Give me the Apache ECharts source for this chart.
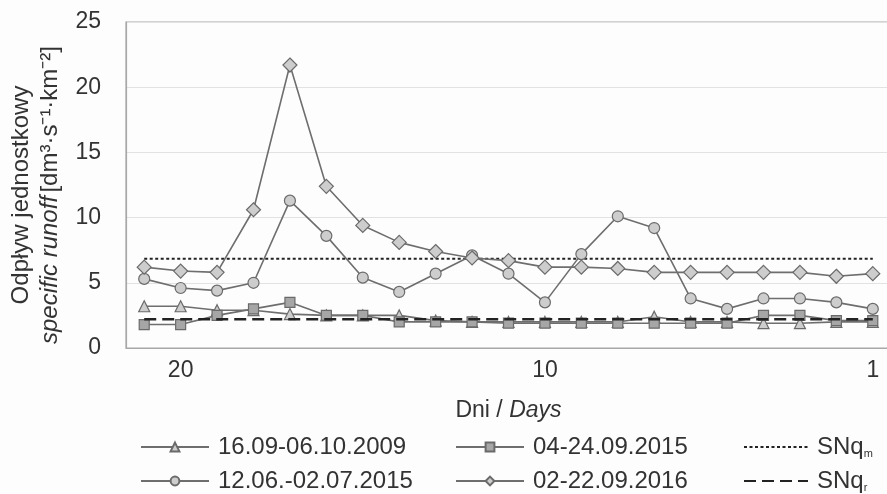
<!DOCTYPE html>
<html><head><meta charset="utf-8">
<script src="https://cdn.jsdelivr.net/npm/echarts@6/dist/echarts.min.js"></script>
<style>html,body{margin:0;padding:0;background:#fdfdfd}#c{width:887px;height:494px}</style>
</head><body><div id="c"></div>
<script>
var days = ['21','20','19','18','17','16','15','14','13','12','11','10','9','8','7','6','5','4','3','2','1'];
var s2009 = [3.2,3.2,2.9,2.9,2.6,2.5,2.5,2.5,2.1,2.0,2.0,2.0,2.0,2.0,2.4,2.0,2.0,1.9,1.9,2.0,2.0];
var s2015sep = [1.8,1.8,2.5,3.0,3.5,2.5,2.5,2.0,2.0,2.0,1.9,1.9,1.9,1.9,1.9,1.9,1.9,2.5,2.5,2.1,2.1];
var s2015jun = [5.3,4.6,4.4,5.0,11.3,8.6,5.4,4.3,5.7,7.1,5.7,3.5,7.2,10.1,9.2,3.8,3.0,3.8,3.8,3.5,3.0];
var s2016 = [6.2,5.9,5.8,10.6,21.7,12.4,9.4,8.1,7.4,6.9,6.7,6.2,6.2,6.1,5.8,5.8,5.8,5.8,5.8,5.5,5.7];
var SNqm = 6.85;
var SNqr = 2.2;
var names = ['16.09-06.10.2009','04-24.09.2015','12.06.-02.07.2015','02-22.09.2016','SNqm','SNqr'];
var shownTicks = ['20','10','1'];

var FF = 'Liberation Sans, Arial, sans-serif';
var lineCol = '#6e6e6e', edge = '#6a6a6a', txt = '#333333';
function constSeries(v){ return days.map(function(){return v;}); }
function dataSeries(name, data, symbol, size, fill){
  return {name:name, type:'line', data:data, symbol:symbol, symbolSize:size,
    lineStyle:{color:lineCol,width:1.6}, itemStyle:{color:fill,borderColor:edge,borderWidth:1.2},
    z:3, animation:false};
}
function fmt(n){ if(n==='SNqm') return 'SNq{s|m}'; if(n==='SNqr') return 'SNq{s|r}'; return n; }
var legTxt = {fontFamily:FF, fontSize:24, lineHeight:24, color:txt, padding:[0,0,0,4],
  rich:{s:{fontFamily:FF, fontSize:11, lineHeight:24, verticalAlign:'bottom', padding:[10,0,0,0], color:txt}}};
function leg(name, left, top, w, hideSymbol){
  var d = hideSymbol ? {name:name, itemStyle:{color:'rgba(0,0,0,0)', borderColor:'rgba(0,0,0,0)', borderWidth:0}} : name;
  return {data:[d], left:left, top:top, itemWidth:w, itemHeight:11, textStyle:legTxt, formatter:fmt, padding:0, selectedMode:false};
}
var chart = echarts.init(document.getElementById('c'), null, {renderer:'canvas'});
chart.setOption({
  backgroundColor:'#fdfdfd',
  animation:false,
  grid:{left:126, top:22, right:-4, bottom:146, outerBoundsMode:'none', containLabel:false,
        show:true, borderColor:'#a8a8a8', borderWidth:1.2, backgroundColor:'transparent'},
  legend:[
    leg(names[0], 140, 435, 68, false),
    leg(names[2], 140, 469, 68, false),
    leg(names[1], 455, 435, 68, false),
    leg(names[3], 455, 469, 68, false),
    leg(names[4], 743, 435, 64, true),
    leg(names[5], 743, 469, 64, true)
  ],
  xAxis:{type:'category', data:days, boundaryGap:true,
    name:'{a|Dni / }{i|Days}', nameLocation:'middle', nameGap:51,
    nameTextStyle:{rich:{a:{fontFamily:FF,fontSize:23,color:txt},i:{fontFamily:FF,fontSize:23,fontStyle:'italic',color:txt}}},
    axisLine:{lineStyle:{color:'#a8a8a8',width:1.2}},
    axisTick:{alignWithLabel:true, length:6, lineStyle:{color:'#a8a8a8'}, interval:function(i,v){return shownTicks.indexOf(v)>=0;}},
    axisLabel:{interval:function(i,v){return shownTicks.indexOf(v)>=0;}, fontFamily:FF, fontSize:23, color:txt, margin:11},
    splitLine:{show:false}
  },
  yAxis:{type:'value', min:0, max:25, interval:5,
    name:'{a|Odpływ jednostkowy}\n{i|specific runoff} {a|[dm³·s⁻¹·km⁻²]}', nameLocation:'middle', nameGap:60, nameRotate:90,
    nameTextStyle:{lineHeight:29, padding:[0,20,0,0], rich:{a:{fontFamily:FF,fontSize:24,color:txt,lineHeight:29},i:{fontFamily:FF,fontSize:24,fontStyle:'italic',color:txt,lineHeight:29}}},
    axisLine:{show:true, lineStyle:{color:'#a8a8a8',width:1.2}},
    axisTick:{show:false},
    axisLabel:{fontFamily:FF, fontSize:23, color:txt, margin:25},
    splitLine:{lineStyle:{color:'#e2e2e2',width:1}}
  },
  series:[
    dataSeries(names[0], s2009, 'triangle', 11, '#cdcdcd'),
    dataSeries(names[1], s2015sep, 'rect', 10, '#a6a6a6'),
    dataSeries(names[2], s2015jun, 'circle', 11, '#cdcdcd'),
    dataSeries(names[3], s2016, 'diamond', 14, '#cdcdcd'),
    {name:names[4], type:'line', data:constSeries(SNqm), symbol:'none', lineStyle:{color:'#222',width:2,type:[3,2.5]}, itemStyle:{color:'#222'}, z:2},
    {name:names[5], type:'line', data:constSeries(SNqr), symbol:'none', lineStyle:{color:'#222',width:2.6,type:[12,6]}, itemStyle:{color:'#222'}, z:4}
  ]
});
</script></body></html>
